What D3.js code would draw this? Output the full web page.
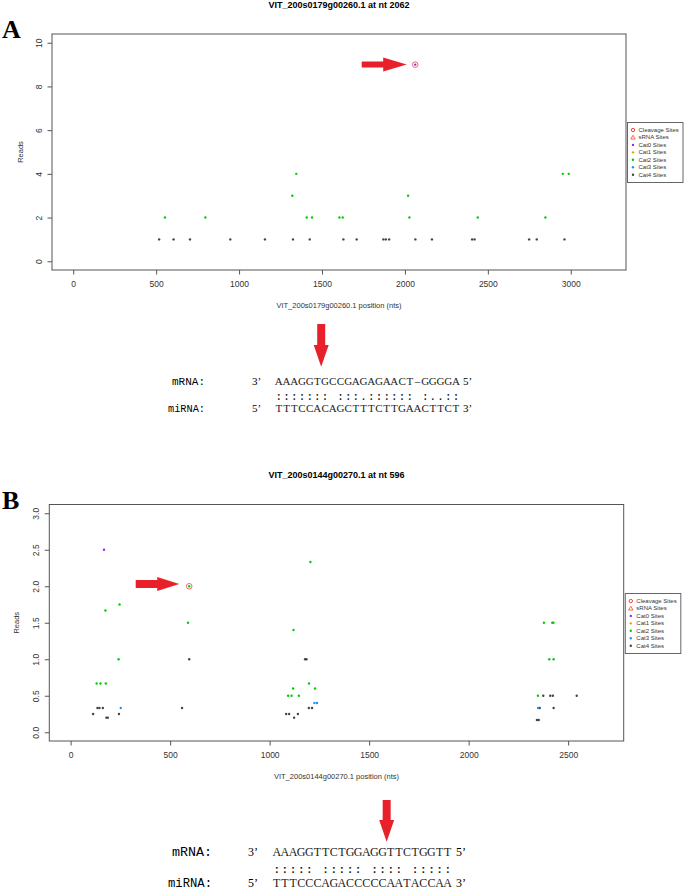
<!DOCTYPE html>
<html>
<head>
<meta charset="utf-8">
<script src="https://cdn.jsdelivr.net/npm/d3@7"></script>
<style>
	body { margin: 0; background: #fff; }
	svg { display: block; }
</style>
</head>
<body>
<script>
// panel A : VIT_200s0179g00260.1, [position, reads]
var aCat0 = [[2062, 9]];
var aCat2 = [[553, 2], [797, 2], [1321, 3], [1345, 4], [1408, 2], [1440, 2], [1605, 2], [1625, 2],
	[2019, 3], [2027, 2], [2439, 2], [2847, 2], [2952, 4], [2988, 4]];
var aCat4 = [[518, 1], [605, 1], [704, 1], [947, 1], [1156, 1], [1325, 1], [1426, 1], [1629, 1],
	[1709, 1], [1870, 1], [1885, 1], [1905, 1], [2063, 1], [2163, 1], [2405, 1], [2420, 1],
	[2749, 1], [2795, 1], [2962, 1]];
var aCleavage = [[2062, 9]];
var aXTicks = [0, 500, 1000, 1500, 2000, 2500, 3000];
var aYTicks = [0, 2, 4, 6, 8, 10];

// panel B : VIT_200s0144g00270.1
var bCat0 = [[168, 2.5]];
var bCat2 = [[131, 0.667], [150, 0.667], [177, 0.667], [175, 1.667], [241, 1], [246, 1.75],
	[590, 1.5], [596, 2], [1093, 0.5], [1110, 0.5], [1118, 0.6], [1120, 1.4], [1147, 0.5],
	[1198, 0.667], [1205, 2.333], [1228, 0.6], [2348, 0.5], [2378, 1.5], [2405, 1],
	[2420, 1.5], [2426, 1.5], [2427, 1]];
var bCat3 = [[252, 0.333], [1225, 0.4], [1238, 0.4], [2349, 0.333]];
var bCat4 = [[113, 0.25], [135, 0.333], [145, 0.333], [162, 0.333], [180, 0.2], [187, 0.2],
	[243, 0.25], [560, 0.333], [596, 1], [1083, 0.25], [1098, 0.25], [1123, 0.2], [1142, 0.25],
	[1178, 1], [1185, 1], [1197, 0.333], [1213, 0.333], [2343, 0.167], [2352, 0.167],
	[2357, 0.333], [2375, 0.5], [2410, 0.5], [2423, 0.5], [2427, 0.333], [2543, 0.5]];
var bCleavage = [[596, 2]];
var bXTicks = [0, 500, 1000, 1500, 2000, 2500];
var bYTicks = [0, 0.5, 1, 1.5, 2, 2.5, 3];

var legendLabels = ['Cleavage Sites', 'sRNA Sites', 'Cat0 Sites', 'Cat1 Sites', 'Cat2 Sites', 'Cat3 Sites', 'Cat4 Sites'];

// alignments
var aMrna = 'AAAGGTGCCGAGAGAACT-GGGGA';
var aPairs = '::::::: :::.:::::: :..::';
var aMirna = 'TTTCCACAGCTTTCTTGAACTTCT';
var bMrna = 'AAAGGTTCTGGAGGTTCTGGTT';
var bPairs = '::::: ::::: :::: :::::';
var bMirna = 'TTTCCCAGACCCCCAATACCAA';

var colors = {
	cleavage: '#f03030',
	srna: '#ff5a2a',
	cat0: '#a020f0',
	cat1: '#e8a000',
	cat2: '#00cd00',
	cat3: '#1e90ff',
	cat4: '#444444'
};
var legendColors = [colors.cleavage, colors.srna, colors.cat0, colors.cat1, colors.cat2, colors.cat3, colors.cat4];
var arrowRed = '#e8202a';

var svg = d3.select('body').append('svg')
	.attr('width', 685)
	.attr('height', 890);

function drawPanel(p)
{
	var g = svg.append('g');
	var x = d3.scaleLinear().domain(p.xDomain).range([p.left, p.right]);
	var y = d3.scaleLinear().domain(p.yDomain).range([p.bottom, p.top]);

	g.append('text')
		.attr('x', 2)
		.attr('y', p.letterY)
		.attr('font-family', 'Liberation Serif, serif')
		.attr('font-weight', 'bold')
		.attr('font-size', 26)
		.text(p.letter);

	g.append('text')
		.attr('x', (p.left + p.right) / 2)
		.attr('y', p.titleY)
		.attr('text-anchor', 'middle')
		.attr('font-family', 'Liberation Sans, Arial, sans-serif')
		.attr('font-weight', 'bold')
		.attr('font-size', 9)
		.text(p.title);

	// axes
	var xAxis = d3.axisBottom(x).tickValues(p.xTicks).tickSize(4.5).tickPadding(6).tickFormat(d3.format('d'));
	var yAxis = d3.axisLeft(y).tickValues(p.yTicks).tickSize(4.5).tickFormat(p.yFormat);

	var gx = g.append('g').attr('transform', 'translate(0,' + p.bottom + ')').call(xAxis);
	var gy = g.append('g').attr('transform', 'translate(' + p.left + ',0)').call(yAxis);
	[gx, gy].forEach(function(a)
	{
		a.select('.domain').remove();
		a.selectAll('line').attr('stroke', '#555');
		a.selectAll('text')
			.attr('fill', '#333')
			.attr('font-family', 'Liberation Sans, Arial, sans-serif')
			.attr('font-size', 8.5);
	});
	gy.selectAll('text')
		.attr('x', null)
		.attr('dy', null)
		.attr('text-anchor', 'middle')
		.attr('transform', 'translate(' + (p.yLabelX - p.left) + ',0) rotate(-90)');

	g.append('rect')
		.attr('x', p.left)
		.attr('y', p.top)
		.attr('width', p.right - p.left)
		.attr('height', p.bottom - p.top)
		.attr('fill', 'none')
		.attr('stroke', '#555')
		.attr('stroke-width', 1);

	g.append('text')
		.attr('transform', 'translate(' + p.readsX + ',' + ((p.top + p.bottom) / 2) + ') rotate(-90)')
		.attr('text-anchor', 'middle')
		.attr('font-family', 'Liberation Sans, Arial, sans-serif')
		.attr('font-size', 7.5)
		.attr('fill', '#333')
		.text('Reads');

	g.append('text')
		.attr('x', (p.left + p.right) / 2)
		.attr('y', p.xLabelY)
		.attr('text-anchor', 'middle')
		.attr('font-family', 'Liberation Sans, Arial, sans-serif')
		.attr('font-size', 7.5)
		.attr('fill', '#333')
		.text(p.xLabel);

	// points
	p.series.forEach(function(s)
	{
		g.append('g').selectAll('circle')
			.data(s.data)
			.enter()
			.append('circle')
			.attr('cx', function(d) { return x(d[0]); })
			.attr('cy', function(d) { return y(d[1]); })
			.attr('r', 1.2)
			.attr('fill', s.color);
	});

	g.append('g').selectAll('circle')
		.data(p.cleavage)
		.enter()
		.append('circle')
		.attr('cx', function(d) { return x(d[0]); })
		.attr('cy', function(d) { return y(d[1]); })
		.attr('r', 2.8)
		.attr('fill', 'none')
		.attr('stroke', colors.cleavage)
		.attr('stroke-opacity', 0.8)
		.attr('stroke-width', 0.9);

	// arrow to the cleavage site
	var c = p.cleavage[0];
	var tipX = x(c[0]) - p.arrowGap, tipY = y(c[1]) + p.arrowDy;
	var len = p.arrowLen, headLen = p.arrowHead, sh = p.arrowShaft / 2, hh = 7;
	g.append('path')
		.attr('d', 'M' + (tipX - len) + ',' + (tipY - sh) +
			'L' + (tipX - headLen) + ',' + (tipY - sh) +
			'L' + (tipX - headLen) + ',' + (tipY - hh) +
			'L' + tipX + ',' + tipY +
			'L' + (tipX - headLen) + ',' + (tipY + hh) +
			'L' + (tipX - headLen) + ',' + (tipY + sh) +
			'L' + (tipX - len) + ',' + (tipY + sh) + 'Z')
		.attr('fill', arrowRed);

	// legend
	var lg = g.append('g');
	lg.append('rect')
		.attr('x', p.legendX)
		.attr('y', p.legendY)
		.attr('width', 55.5)
		.attr('height', 60)
		.attr('fill', '#fff')
		.attr('stroke', '#666')
		.attr('stroke-width', 1);
	legendLabels.forEach(function(lbl, i)
	{
		var ly = p.legendY + 7.5 + i * 7.45;
		var sx = p.legendX + 5.5;
		if(i == 0)
		{
			lg.append('circle').attr('cx', sx).attr('cy', ly).attr('r', 1.7)
				.attr('fill', 'none').attr('stroke', legendColors[i]).attr('stroke-width', 0.9);
		}
		else if(i == 1)
		{
			lg.append('path')
				.attr('d', 'M' + sx + ',' + (ly - 2.2) + 'L' + (sx + 2.2) + ',' + (ly + 1.6) + 'L' + (sx - 2.2) + ',' + (ly + 1.6) + 'Z')
				.attr('fill', 'none').attr('stroke', legendColors[i]).attr('stroke-width', 0.9);
		}
		else
		{
			lg.append('circle').attr('cx', sx).attr('cy', ly).attr('r', 1.2).attr('fill', legendColors[i]);
		}
		lg.append('text')
			.attr('x', p.legendX + 11)
			.attr('y', ly + 2)
			.attr('font-family', 'Liberation Sans, Arial, sans-serif')
			.attr('font-size', 6)
			.attr('fill', '#333')
			.text(lbl);
	});
}

function drawAlignment(a)
{
	var g = svg.append('g');
	var cx = function(i) { return a.seqX + a.step * (i + 0.5); };
	var rows = [
		{ label: 'mRNA:', labelX: a.mLabelX, labelW: a.mLabelW, left: '3\u2019', right: '5\u2019', seq: a.mrna, y: a.row1Y, size: a.size },
		{ label: 'miRNA:', labelX: a.miLabelX, labelW: a.miLabelW, left: '5\u2019', right: '3\u2019', seq: a.mirna, y: a.row3Y, size: a.size }
	];
	rows.forEach(function(r)
	{
		g.append('text')
			.attr('x', r.labelX)
			.attr('y', r.y)
			.attr('textLength', r.labelW)
			.attr('lengthAdjust', 'spacingAndGlyphs')
			.attr('font-family', 'Liberation Mono, monospace')
			.attr('font-size', r.size)
			.text(r.label);
		g.append('text')
			.attr('x', a.primeLeftX)
			.attr('y', r.y)
			.attr('font-family', 'Liberation Serif, serif')
			.attr('font-size', r.size)
			.text(r.left);
		g.append('text')
			.attr('x', a.primeRightX)
			.attr('y', r.y)
			.attr('font-family', 'Liberation Serif, serif')
			.attr('font-size', r.size)
			.text(r.right);
		g.append('g').selectAll('text')
			.data(r.seq.split(''))
			.enter()
			.append('text')
			.attr('x', function(d, i) { return cx(i); })
			.attr('y', r.y)
			.attr('text-anchor', 'middle')
			.attr('font-family', 'Liberation Serif, serif')
			.attr('font-size', r.size)
			.attr('fill', '#222')
			.text(function(d) { return d == '-' ? '\u2013' : d; });
	});
	g.append('g').selectAll('text')
		.data(a.pairs.split(''))
		.enter()
		.append('text')
		.attr('x', function(d, i) { return cx(i); })
		.attr('y', a.row2Y)
		.attr('text-anchor', 'middle')
		.attr('font-family', 'Liberation Mono, monospace')
		.attr('font-weight', 'bold')
		.attr('font-size', a.pairSize)
		.attr('fill', '#222')
		.text(function(d) { return d; });

	// arrow pointing down at the cleavage position
	var ax = a.seqX + a.step * a.arrowAt;
	var sw = 4, hw = 7.5;
	g.append('path')
		.attr('d', 'M' + (ax - sw) + ',' + a.arrowTop +
			'L' + (ax + sw) + ',' + a.arrowTop +
			'L' + (ax + sw) + ',' + a.arrowMid +
			'L' + (ax + hw) + ',' + a.arrowMid +
			'L' + ax + ',' + a.arrowTip +
			'L' + (ax - hw) + ',' + a.arrowMid +
			'L' + (ax - sw) + ',' + a.arrowMid + 'Z')
		.attr('fill', arrowRed);
}

drawPanel({
	letter: 'A', letterY: 38,
	title: 'VIT_200s0179g00260.1 at nt 2062', titleY: 8,
	xLabel: 'VIT_200s0179g00260.1 position (nts)', xLabelY: 308,
	left: 52, right: 626, top: 34, bottom: 270,
	xDomain: [-128, 3333], yDomain: [-0.4, 10.4],
	xTicks: aXTicks, yTicks: aYTicks, yFormat: d3.format('d'),
	yLabelX: 41.5, readsX: 22.5,
	series: [
		{ data: aCat4, color: colors.cat4 },
		{ data: aCat2, color: colors.cat2 },
		{ data: aCat0, color: colors.cat0 }
	],
	cleavage: aCleavage,
	arrowGap: 8.5, arrowDy: 0, arrowLen: 45, arrowHead: 23.5, arrowShaft: 6,
	legendX: 627.5, legendY: 122.5
});

drawPanel({
	letter: 'B', letterY: 509,
	title: 'VIT_200s0144g00270.1 at nt 596', titleY: 478,
	xLabel: 'VIT_200s0144g00270.1 position (nts)', xLabelY: 779,
	left: 49.3, right: 623.7, top: 504.5, bottom: 741,
	xDomain: [-107, 2779], yDomain: [-0.12, 3.12],
	xTicks: bXTicks, yTicks: bYTicks, yFormat: d3.format('.1f'),
	yLabelX: 38.5, readsX: 18.5,
	series: [
		{ data: bCat4, color: colors.cat4 },
		{ data: bCat3, color: colors.cat3 },
		{ data: bCat2, color: colors.cat2 },
		{ data: bCat0, color: colors.cat0 }
	],
	cleavage: bCleavage,
	arrowGap: 10, arrowDy: -2.3, arrowLen: 43.5, arrowHead: 22, arrowShaft: 8,
	legendX: 625.3, legendY: 593.5
});

drawAlignment({
	mrna: aMrna, pairs: aPairs, mirna: aMirna,
	seqX: 275, step: 7.7, size: 11, pairSize: 10,
	mLabelX: 172, mLabelW: 33, miLabelX: 168, miLabelW: 37,
	primeLeftX: 252, primeRightX: 463,
	row1Y: 385, row2Y: 400, row3Y: 411.7,
	arrowAt: 6, arrowTop: 324, arrowMid: 345, arrowTip: 366.7
});

drawAlignment({
	mrna: bMrna, pairs: bPairs, mirna: bMirna,
	seqX: 272.7, step: 8.14, size: 12, pairSize: 11,
	mLabelX: 172, mLabelW: 40, miLabelX: 168, miLabelW: 44,
	primeLeftX: 248, primeRightX: 456,
	row1Y: 856, row2Y: 872.5, row3Y: 886.7,
	arrowAt: 14, arrowTop: 800, arrowMid: 820, arrowTip: 841.7
});
</script>
</body>
</html>
